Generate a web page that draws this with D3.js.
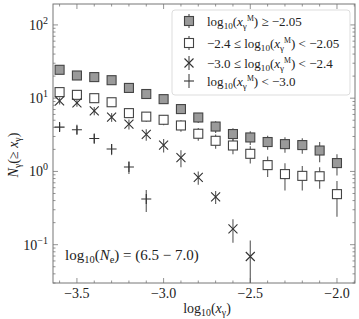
<!DOCTYPE html>
<html>
<head>
<meta charset="utf-8">
<script src="https://cdn.jsdelivr.net/npm/d3@7"></script>
<style>
  body { margin: 0; background: #fff; }
  svg text { font-family: "Liberation Serif", "DejaVu Serif", serif; fill: #222; }
</style>
</head>
<body>
<svg width="359" height="319"></svg>
<script>
// log10(x_gamma) bins
const xBins = [-3.6, -3.5, -3.4, -3.3, -3.2, -3.1, -3.0, -2.9, -2.8, -2.7, -2.6, -2.5, -2.4, -2.3, -2.2, -2.1, -2.0]

// log10(x^M) >= -2.05  (grey squares)
const highVals = [24.4, 20.4, 19.4, 17.6, 13.8, 11.4, 9.7, 7.1, 5.45, 4.1, 3.24, 2.91, 2.52, 2.36, 2.29, 1.93, 1.3]
const highErrs = [1.8, 1.6, 1.6, 1.5, 1.3, 1.2, 1.1, 1.0, 0.85, 0.75, 0.65, 0.62, 0.55, 0.56, 0.55, 0.6, 0.42]

// -2.4 <= log10(x^M) < -2.05  (open squares)
const midVals = [12.1, 11.1, 10.0, 8.8, 6.25, 5.6, 5.07, 4.24, 3.27, 2.62, 2.26, 1.74, 1.22, 0.92, 0.87, 0.86, 0.49]
const midErrs = [1.3, 1.2, 1.15, 1.05, 0.9, 0.85, 0.8, 0.75, 0.65, 0.58, 0.54, 0.46, 0.38, 0.37, 0.32, 0.28, 0.25]

// -3.0 <= log10(x^M) < -2.4  (crosses)
const lowVals = [9.2, 8.6, 6.7, 5.5, 4.43, 3.2, 2.29, 1.54, 0.83, 0.45, 0.164, 0.069]
const lowErrs = [1.0, 0.95, 0.85, 0.75, 0.68, 0.58, 0.48, 0.4, 0.17, 0.09, 0.058, 0.045]

// log10(x^M) < -3.0  (plus)
const minVals = [4.03, 3.7, 2.82, 2.02, 1.15, 0.42]
const minErrs = [0.5, 0.48, 0.42, 0.35, 0.23, 0.14]

const xTicks = [-3.5, -3.0, -2.5, -2.0]
const yTicks = [0.1, 1, 10, 100]
const yTickExp = ["−1", "0", "1", "2"]

const series = [
  { name: "high", vals: highVals, errs: highErrs, shape: "square", fill: "#9a9a9a" },
  { name: "mid", vals: midVals, errs: midErrs, shape: "square", fill: "#fff" },
  { name: "low", vals: lowVals, errs: lowErrs, shape: "cross", fill: "none" },
  { name: "min", vals: minVals, errs: minErrs, shape: "plus", fill: "none" },
]

const svg = d3.select("svg")
const margin = { top: 4, right: 4, bottom: 36, left: 53 }
const width = 359 - margin.left - margin.right
const height = 319 - margin.top - margin.bottom
const g = svg.append("g").attr("transform", `translate(${margin.left},${margin.top})`)

const x = d3.scaleLinear().domain([-3.638, -1.896]).range([0, width])
const y = d3.scaleLog().domain([0.03, 193]).range([height, 0])

// clip for data
svg.append("defs").append("clipPath").attr("id", "clip")
  .append("rect").attr("width", width).attr("height", height)

// minor/major ticks on all four sides, pointing inward
const axisCol = "#777"
const xMinor = d3.range(-3.6, -1.89, 0.1).map((d) => Math.round(d * 10) / 10)
const yMinor = []
for (let e = -2; e <= 2; e++) for (let m = 1; m < 10; m++) yMinor.push(m * Math.pow(10, e))
const yMinorIn = yMinor.filter((v) => v >= 0.03 && v <= 193)

const ticks = g.append("g").attr("stroke", axisCol).attr("stroke-width", 0.8)
xMinor.forEach((v) => {
  const major = xTicks.some((t) => Math.abs(t - v) < 1e-6)
  const len = major ? 5 : 2.5
  ticks.append("line").attr("x1", x(v)).attr("x2", x(v)).attr("y1", height).attr("y2", height - len)
  ticks.append("line").attr("x1", x(v)).attr("x2", x(v)).attr("y1", 0).attr("y2", len)
})
yMinorIn.forEach((v) => {
  const major = yTicks.some((t) => Math.abs(t - v) / t < 1e-6)
  const len = major ? 5 : 2.5
  ticks.append("line").attr("x1", 0).attr("x2", len).attr("y1", y(v)).attr("y2", y(v))
  ticks.append("line").attr("x1", width).attr("x2", width - len).attr("y1", y(v)).attr("y2", y(v))
})

g.append("rect").attr("width", width).attr("height", height)
  .attr("fill", "none").attr("stroke", axisCol).attr("stroke-width", 1)

// tick labels
g.selectAll(".xlab").data(xTicks).enter().append("text")
  .attr("x", (d) => x(d)).attr("y", height + 15)
  .attr("text-anchor", "middle").attr("font-size", 14)
  .text((d) => d3.format(".1f")(d).replace("-", "−"))

yTicks.forEach((v, i) => {
  const t = g.append("text").attr("x", -5).attr("y", y(v) + 5)
    .attr("text-anchor", "end").attr("font-size", 14)
  t.append("tspan").text("10")
  t.append("tspan").attr("font-size", 10).attr("dy", -6).text(yTickExp[i])
})

// data
const dg = g.append("g").attr("clip-path", "url(#clip)")
series.forEach((s) => {
  const pts = s.vals.map((v, i) => ({ x: xBins[i], v: v, e: s.errs[i] }))
  const sg = dg.append("g")
  sg.selectAll("line.err").data(pts).enter().append("line")
    .attr("class", "err")
    .attr("x1", (d) => x(d.x)).attr("x2", (d) => x(d.x))
    .attr("y1", (d) => y(d.v + d.e))
    .attr("y2", (d) => y(Math.max(d.v - d.e, 0.001)))
    .attr("stroke", "#666").attr("stroke-width", 1.2)
  drawMarkers(sg, pts, s)
})

function drawMarkers(sel, pts, s) {
  const r = 4.5
  const m = sel.selectAll("g.mk").data(pts).enter().append("g")
    .attr("transform", (d) => `translate(${x(d.x)},${y(d.v)})`)
  if (s.shape === "square") {
    m.append("rect").attr("x", -r).attr("y", -r).attr("width", 2 * r).attr("height", 2 * r)
      .attr("fill", s.fill).attr("stroke", "#444").attr("stroke-width", 1.1)
  } else if (s.shape === "cross") {
    m.append("path").attr("d", `M${-r},${-r}L${r},${r}M${-r},${r}L${r},${-r}`)
      .attr("stroke", "#333").attr("stroke-width", 1.1)
  } else {
    m.append("path").attr("d", `M${-r - 0.5},0L${r + 0.5},0M0,${-r - 0.5}L0,${r + 0.5}`)
      .attr("stroke", "#333").attr("stroke-width", 1.1)
  }
}

// legend
const lg = g.append("g").attr("transform", `translate(${172 - margin.left},${10 - margin.top})`)
lg.append("rect").attr("width", 178).attr("height", 85).attr("rx", 3)
  .attr("fill", "#fff").attr("stroke", "#ddd").attr("stroke-width", 1)

const legendRows = [
  [["log", 0], ["10", "sub"], ["(", 0], ["x", "it"], ["γ", "sub"], ["M", "sup"], [") ≥ −2.05", 0]],
  [["−2.4 ≤ log", 0], ["10", "sub"], ["(", 0], ["x", "it"], ["γ", "sub"], ["M", "sup"], [") < −2.05", 0]],
  [["−3.0 ≤ log", 0], ["10", "sub"], ["(", 0], ["x", "it"], ["γ", "sub"], ["M", "sup"], [") < −2.4", 0]],
  [["log", 0], ["10", "sub"], ["(", 0], ["x", "it"], ["γ", "sub"], ["M", "sup"], [") < −3.0", 0]],
]
const rowY = [11, 33, 53, 71]
series.forEach((s, i) => {
  const row = lg.append("g")
  row.append("line").attr("x1", 17).attr("x2", 17).attr("y1", rowY[i] - 7).attr("y2", rowY[i] + 7)
    .attr("stroke", "#555").attr("stroke-width", 1.2)
  const mk = row.append("g").attr("transform", `translate(17,${rowY[i]})`)
  const r = 4.5
  if (s.shape === "square") {
    mk.append("rect").attr("x", -r).attr("y", -r).attr("width", 2 * r).attr("height", 2 * r)
      .attr("fill", s.fill).attr("stroke", "#444").attr("stroke-width", 1.1)
  } else if (s.shape === "cross") {
    mk.append("path").attr("d", `M${-r},${-r}L${r},${r}M${-r},${r}L${r},${-r}`)
      .attr("stroke", "#333").attr("stroke-width", 1.1)
  } else {
    mk.append("path").attr("d", `M${-r - 0.5},0L${r + 0.5},0`)
      .attr("stroke", "#333").attr("stroke-width", 1.1)
  }
  const t = row.append("text").attr("x", 35).attr("y", rowY[i] + 4.5).attr("font-size", 13)
  richText(t, legendRows[i], 13)
})

function richText(t, parts, fs) {
  let shift = 0
  parts.forEach(([str, kind]) => {
    const sp = t.append("tspan").text(str)
    let target = 0
    if (kind === "sub") { sp.attr("font-size", fs * 0.7); target = 3 }
    else if (kind === "sup") { sp.attr("font-size", fs * 0.6); target = -5 }
    else if (kind === "it") { sp.attr("font-style", "italic") }
    sp.attr("dy", target - shift)
    shift = target
  })
}

// annotation
const ann = g.append("text").attr("x", 65 - margin.left).attr("y", 260 - margin.top).attr("font-size", 15)
richText(ann, [["log", 0], ["10", "sub"], ["(", 0], ["N", "it"], ["e", "sub"], [") = (6.5 − 7.0)", 0]], 15)

// axis titles
const xt = svg.append("text").attr("x", 207).attr("y", 313).attr("text-anchor", "middle").attr("font-size", 14)
richText(xt, [["log", 0], ["10", "sub"], ["(", 0], ["x", "it"], ["γ", "sub"], [")", 0]], 14)

const yt = svg.append("text").attr("transform", "translate(18,155) rotate(-90)")
  .attr("text-anchor", "middle").attr("font-size", 14)
richText(yt, [["N", "it"], ["γ", "sub"], ["(≥ ", 0], ["x", "it"], ["γ", "sub"], [")", 0]], 14)
</script>
</body>
</html>
